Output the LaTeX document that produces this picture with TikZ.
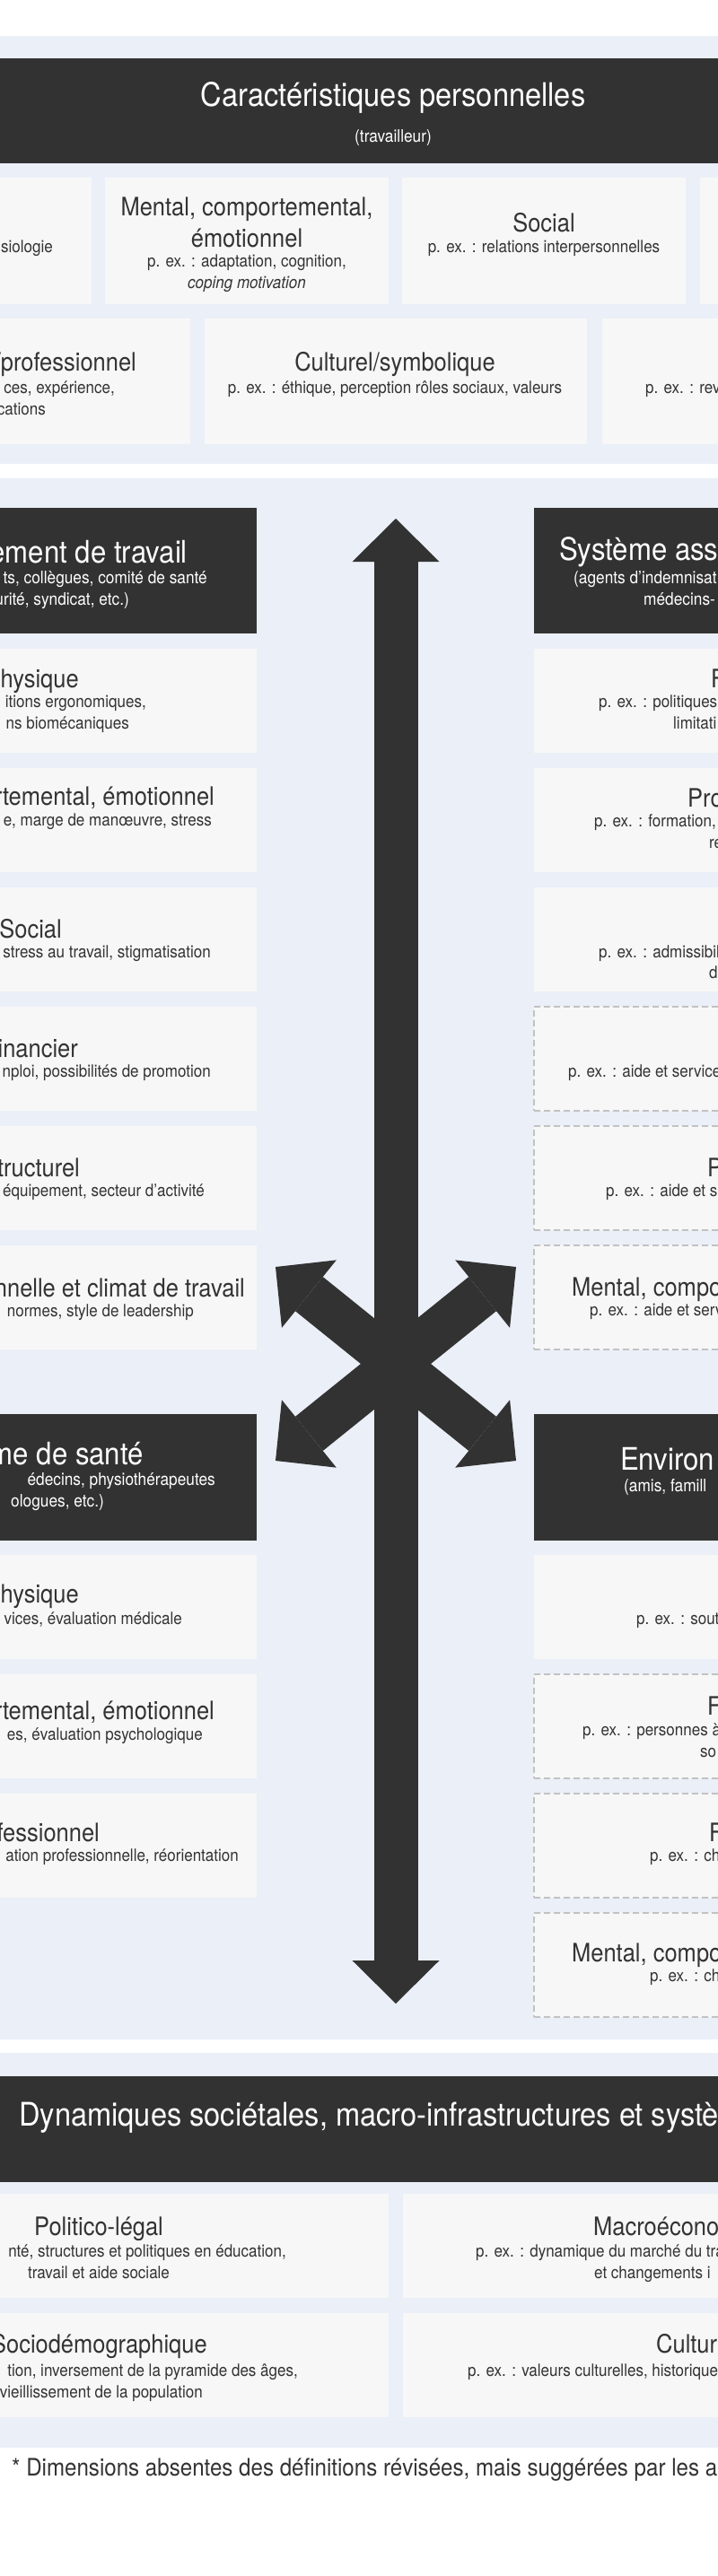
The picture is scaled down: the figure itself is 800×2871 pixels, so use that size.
\documentclass[tikz,border=0pt]{standalone}
\usepackage{fontspec}
\setmainfont{TeX Gyre Heros}[FakeStretch=0.9]
\usetikzlibrary{arrows.meta}

\definecolor{bandblue}{HTML}{EBEFF8}
\definecolor{tilegray}{HTML}{F7F7F7}
\definecolor{headdark}{HTML}{323232}
\definecolor{inkgray}{HTML}{333333}
\definecolor{dashgray}{HTML}{C2C2C2}

\begin{document}
\begin{tikzpicture}[
        x=1pt, y=-1pt,
        band/.style={fill=bandblue, draw=none},
        tile/.style={rectangle, fill=tilegray, anchor=north west, inner sep=0pt, outer sep=0pt},
        gaptile/.style={tile, draw=dashgray, line width=1.2pt, dash pattern=on 7pt off 4pt},
        headbox/.style={rectangle, fill=headdark, anchor=north west, inner sep=0pt, outer sep=0pt},
        bigtitle/.style={text=white, inner sep=0pt, font=\fontsize{36.2}{40}\selectfont},
        headtitle/.style={text=white, inner sep=0pt, font=\fontsize{34.6}{38}\selectfont},
        headsub/.style={text=white, inner sep=0pt, font=\fontsize{19.2}{23}\selectfont},
        dimtitle/.style={text=inkgray, inner sep=0pt, font=\fontsize{28.3}{32}\selectfont},
        dimsub/.style={text=inkgray, inner sep=0pt, font=\fontsize{18.9}{22}\selectfont},
        note/.style={text=inkgray, inner sep=0pt, font=\fontsize{26.8}{30}\selectfont},
        bigarrow/.style={draw=headdark, line width=49pt,
            {Triangle[length=48pt, width=97pt, line width=0pt]}-{Triangle[length=48pt, width=97pt, line width=0pt]}}
    ]
        \useasboundingbox (0,0) rectangle (800,2871);
        \clip (0,0) rectangle (800,2871);
        \fill[white] (0,0) rectangle (800,2871);

        % Personal characteristics
        \fill[band] (-250,40) rectangle (1130,517);
        \node[headbox, minimum width=1311pt, minimum height=117pt] (cap) at (-214,65) {};
        \node[bigtitle, anchor=base] (capT) at (438,119) {Caractéristiques personnelles};
        \node[headsub, anchor=base] (capS) at (438,159) {(travailleur)};

        \node[tile, minimum width=316pt, minimum height=141pt] (c1) at (-214,198) {};
        \node[tile, minimum width=316pt, minimum height=141pt] (c2) at (117,198) {};
        \node[tile, minimum width=316pt, minimum height=141pt] (c3) at (448,198) {};
        \node[tile, minimum width=316pt, minimum height=141pt] (c4) at (780,198) {};
        \node[tile, minimum width=426pt, minimum height=140pt] (c5) at (-214,355) {};
        \node[tile, minimum width=426pt, minimum height=140pt] (c6) at (228,355) {};
        \node[tile, minimum width=426pt, minimum height=140pt] (c7) at (671,355) {};

        \node[dimsub, anchor=base east] (c1s) at (59,281) {siologie};
        \node[dimtitle, anchor=base] (c2t1) at (275,241) {Mental, comportemental,};
        \node[dimtitle, anchor=base] (c2t2) at (275,276) {émotionnel};
        \node[dimsub, anchor=base] (c2s1) at (275,298) {p. ex. : adaptation, cognition,};
        \node[dimsub, anchor=base] (c2s2) at (275,321) {\itshape coping motivation};
        \node[dimtitle, anchor=base] (c3t) at (606,259) {Social};
        \node[dimsub, anchor=base] (c3s) at (606,281) {p. ex. : relations interpersonnelles};
        \node[dimtitle, anchor=base east] (c5t) at (152,413) {/professionnel};
        \node[dimsub, anchor=base east] (c5s1) at (128,438) {ces, expérience,};
        \node[dimsub, anchor=base east] (c5s2) at (51,462) {cations};
        \node[dimtitle, anchor=base] (c6t) at (440,413) {Culturel/symbolique};
        \node[dimsub, anchor=base] (c6s) at (440,438) {p. ex. : éthique, perception rôles sociaux, valeurs};
        \node[dimsub, anchor=base west] (c7s) at (719,438) {p. ex. : reve};

        % Systems around the worker
        \fill[band] (-250,533) rectangle (1130,2273);
        \node[headbox, minimum width=500pt, minimum height=140pt] (work) at (-214,566) {};
        \node[headbox, minimum width=501pt, minimum height=140pt] (insur) at (595,566) {};
        \node[headbox, minimum width=500pt, minimum height=141pt] (care) at (-214,1576) {};
        \node[headbox, minimum width=501pt, minimum height=141pt] (home) at (595,1576) {};

        \node[headtitle, anchor=base east] (workT) at (209,627) {ement de travail};
        \node[headsub, anchor=base east] (workS1) at (231,650) {ts, collègues, comité de santé};
        \node[headsub, anchor=base east] (workS2) at (144,674) {urité, syndicat, etc.)};
        \node[headtitle, anchor=base west] (insurT) at (623,624) {Système ass};
        \node[headsub, anchor=base west] (insurS1) at (639,650) {(agents d’indemnisat};
        \node[headsub, anchor=base west] (insurS2) at (717,674) {médecins-};
        \node[headtitle, anchor=base east] (careT) at (160,1632) {me de santé};
        \node[headsub, anchor=base east] (careS1) at (240,1655) {édecins, physiothérapeutes};
        \node[headsub, anchor=base east] (careS2) at (116,1679) {ologues, etc.)};
        \node[headtitle, anchor=base west] (homeT) at (691,1638) {Environ};
        \node[headsub, anchor=base west] (homeS) at (695,1662) {(amis, famill};

        % Left column
        \node[tile, minimum width=500pt, minimum height=116pt] (l1) at (-214,723) {};
        \node[tile, minimum width=500pt, minimum height=116pt] (l2) at (-214,856) {};
        \node[tile, minimum width=500pt, minimum height=116pt] (l3) at (-214,989) {};
        \node[tile, minimum width=500pt, minimum height=116pt] (l4) at (-214,1122) {};
        \node[tile, minimum width=500pt, minimum height=116pt] (l5) at (-214,1255) {};
        \node[tile, minimum width=500pt, minimum height=116pt] (l6) at (-214,1388) {};
        \node[tile, minimum width=500pt, minimum height=116pt] (l7) at (-214,1733) {};
        \node[tile, minimum width=500pt, minimum height=116pt] (l8) at (-214,1866) {};
        \node[tile, minimum width=500pt, minimum height=116pt] (l9) at (-214,1999) {};

        \node[dimtitle, anchor=base east] (l1t) at (88,766) {Physique};
        \node[dimsub, anchor=base east] (l1s1) at (163,788) {itions ergonomiques,};
        \node[dimsub, anchor=base east] (l1s2) at (144,812) {ns biomécaniques};
        \node[dimtitle, anchor=base east] (l2t) at (239,897) {rtemental, émotionnel};
        \node[dimsub, anchor=base east] (l2s) at (236,920) {e, marge de manœuvre, stress};
        \node[dimtitle, anchor=base east] (l3t) at (69,1045) {Social};
        \node[dimsub, anchor=base east] (l3s) at (235,1067) {stress au travail, stigmatisation};
        \node[dimtitle, anchor=base east] (l4t) at (87,1178) {inancier};
        \node[dimsub, anchor=base east] (l4s) at (235,1200) {nploi, possibilités de promotion};
        \node[dimtitle, anchor=base east] (l5t) at (89,1311) {tructurel};
        \node[dimsub, anchor=base east] (l5s) at (228,1333) {équipement, secteur d’activité};
        \node[dimtitle, anchor=base east] (l6t) at (273,1445) {onnelle et climat de travail};
        \node[dimsub, anchor=base east] (l6s) at (216,1467) {normes, style de leadership};
        \node[dimtitle, anchor=base east] (l7t) at (88,1786) {Physique};
        \node[dimsub, anchor=base east] (l7s) at (203,1810) {vices, évaluation médicale};
        \node[dimtitle, anchor=base east] (l8t) at (239,1916) {rtemental, émotionnel};
        \node[dimsub, anchor=base east] (l8s) at (226,1939) {es, évaluation psychologique};
        \node[dimtitle, anchor=base east] (l9t) at (111,2052) {fessionnel};
        \node[dimsub, anchor=base east] (l9s) at (266,2074) {ation professionnelle, réorientation};

        % Right column
        \node[tile, minimum width=501pt, minimum height=116pt] (r1) at (595,723) {};
        \node[tile, minimum width=501pt, minimum height=116pt] (r2) at (595,856) {};
        \node[tile, minimum width=501pt, minimum height=116pt] (r3) at (595,989) {};
        \node[gaptile, minimum width=501pt, minimum height=116pt] (r4) at (595,1122) {};
        \node[gaptile, minimum width=501pt, minimum height=116pt] (r5) at (595,1255) {};
        \node[gaptile, minimum width=501pt, minimum height=116pt] (r6) at (595,1388) {};
        \node[tile, minimum width=501pt, minimum height=116pt] (r7) at (595,1733) {};
        \node[gaptile, minimum width=501pt, minimum height=116pt] (r8) at (595,1866) {};
        \node[gaptile, minimum width=501pt, minimum height=116pt] (r9) at (595,1999) {};
        \node[gaptile, minimum width=501pt, minimum height=116pt] (r10) at (595,2132) {};

        \node[dimtitle, anchor=base west] (r1t) at (792,766) {F};
        \node[dimsub, anchor=base west] (r1s1) at (667,788) {p. ex. : politiques d};
        \node[dimsub, anchor=base west] (r1s2) at (750,812) {limitati};
        \node[dimtitle, anchor=base west] (r2t) at (766,899) {Pro};
        \node[dimsub, anchor=base west] (r2s1) at (662,921) {p. ex. : formation, r};
        \node[dimsub, anchor=base west] (r2s2) at (790,945) {re};
        \node[dimsub, anchor=base west] (r3s1) at (667,1067) {p. ex. : admissibilit};
        \node[dimsub, anchor=base west] (r3s2) at (790,1090) {d};
        \node[dimsub, anchor=base west] (r4s) at (633,1200) {p. ex. : aide et services};
        \node[dimtitle, anchor=base west] (r5t) at (788,1311) {P};
        \node[dimsub, anchor=base west] (r5s) at (675,1333) {p. ex. : aide et ser};
        \node[dimtitle, anchor=base west] (r6t) at (637,1444) {Mental, compo};
        \node[dimsub, anchor=base west] (r6s) at (657,1466) {p. ex. : aide et servi};
        \node[dimsub, anchor=base west] (r7s) at (709,1810) {p. ex. : soutie};
        \node[dimtitle, anchor=base west] (r8t) at (788,1911) {F};
        \node[dimsub, anchor=base west] (r8s1) at (649,1934) {p. ex. : personnes à};
        \node[dimsub, anchor=base west] (r8s2) at (780,1958) {so};
        \node[dimtitle, anchor=base west] (r9t) at (790,2052) {F};
        \node[dimsub, anchor=base west] (r9s) at (724,2074) {p. ex. : cha};
        \node[dimtitle, anchor=base west] (r10t) at (637,2186) {Mental, compo};
        \node[dimsub, anchor=base west] (r10s) at (724,2208) {p. ex. : cha};

        % Interaction arrows
        \coordinate (up) at (441,578);
        \coordinate (down) at (441,2233);
        \coordinate (ul) at (307,1412);
        \coordinate (lr) at (575,1628);
        \coordinate (ur) at (575,1412);
        \coordinate (ll) at (307,1628);
        \draw[bigarrow] (up) -- (down);
        \draw[bigarrow] (ul) -- (lr);
        \draw[bigarrow] (ur) -- (ll);

        % Societal dynamics
        \fill[band] (-250,2288) rectangle (1130,2728);
        \node[headbox, minimum width=1311pt, minimum height=118pt] (soc) at (-214,2314) {};
        \node[bigtitle, anchor=base west] (socT) at (21,2369) {Dynamiques sociétales, macro-infrastructures et systèm};

        \node[tile, minimum width=647pt, minimum height=116pt] (b1) at (-214,2445) {};
        \node[tile, minimum width=648pt, minimum height=116pt] (b2) at (449,2445) {};
        \node[tile, minimum width=647pt, minimum height=116pt] (b3) at (-214,2578) {};
        \node[tile, minimum width=648pt, minimum height=116pt] (b4) at (449,2578) {};

        \node[dimtitle, anchor=base] (b1t) at (110,2491) {Politico-légal};
        \node[dimsub, anchor=base east] (b1s1) at (319,2515) {nté, structures et politiques en éducation,};
        \node[dimsub, anchor=base] (b1s2) at (110,2539) {travail et aide sociale};
        \node[dimtitle, anchor=base west] (b2t) at (661,2491) {Macroécono};
        \node[dimsub, anchor=base west] (b2s1) at (530,2515) {p. ex. : dynamique du marché du tra};
        \node[dimsub, anchor=base west] (b2s2) at (662,2539) {et changements i};
        \node[dimtitle, anchor=base east] (b3t) at (231,2622) {Sociodémographique};
        \node[dimsub, anchor=base east] (b3s1) at (332,2648) {tion, inversement de la pyramide des âges,};
        \node[dimsub, anchor=base east] (b3s2) at (226,2672) {vieillissement de la population};
        \node[dimtitle, anchor=base west] (b4t) at (731,2622) {Cultur};
        \node[dimsub, anchor=base west] (b4s) at (521,2648) {p. ex. : valeurs culturelles, historique e};

        % Footnote
        \node[note, anchor=base west] (fn) at (13,2759) {* Dimensions absentes des définitions révisées, mais suggérées par les a};
    \end{tikzpicture}
\end{document}
